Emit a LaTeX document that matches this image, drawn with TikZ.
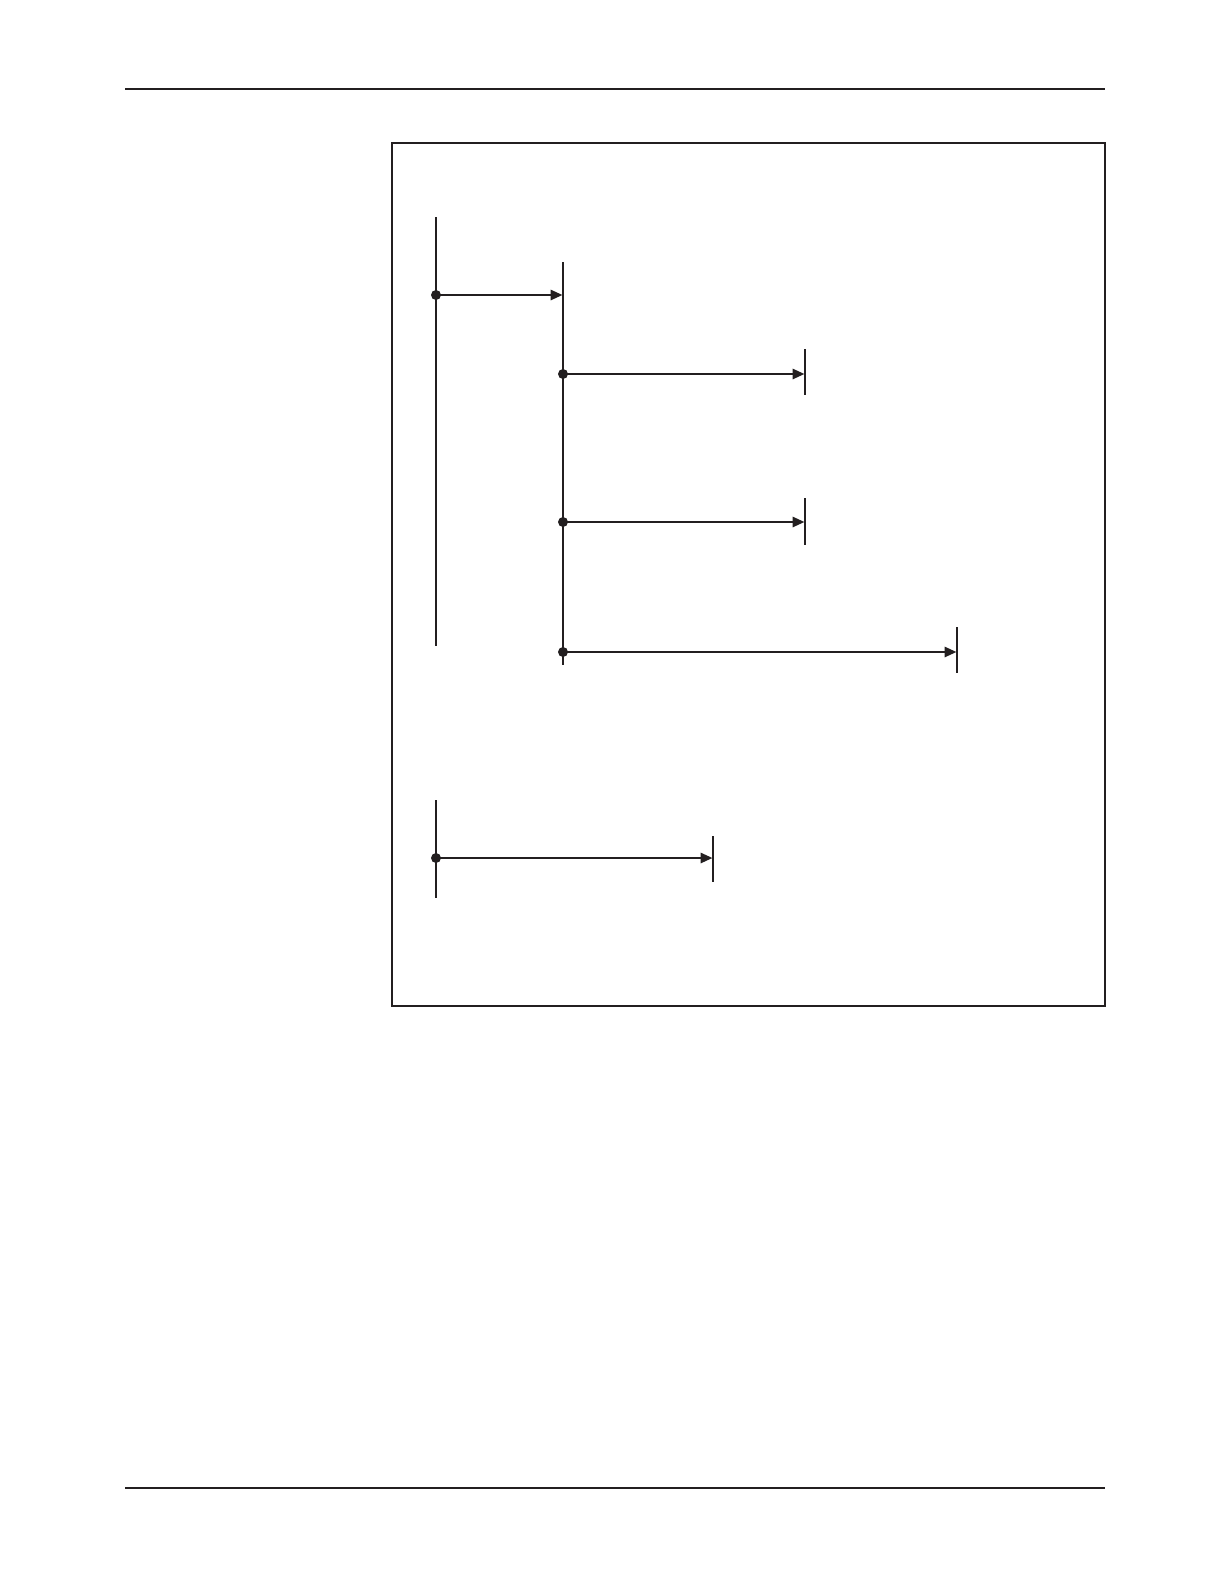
\documentclass[tikz,border=0pt]{standalone}
\usetikzlibrary{arrows.meta}
\definecolor{ink}{HTML}{231F20}
\tikzset{
  lifeline/.style={draw=ink, line width=0.6pt},
  msg/.style={draw=ink, line width=1.35pt, -{Triangle[length=6pt,width=5pt]}, shorten >=0.2pt},
  origin/.style={circle, fill=ink, inner sep=0pt, minimum size=5pt},
  rule/.style={draw=ink, line width=0.65pt},
  frame/.style={draw=ink, line width=0.65pt}
}
\begin{document}
\begin{tikzpicture}[x=0.5pt, y=-0.5pt]
\useasboundingbox (0,0) rectangle (1224,1584);
% page rules
\coordinate (t1) at (125,89); \coordinate (t2) at (1105,89);
\coordinate (b1) at (125,1488); \coordinate (b2) at (1105,1488);
\draw[rule] (t1) -- (t2);
\draw[rule] (b1) -- (b2);
% frame
\coordinate (f1) at (392,143); \coordinate (f2) at (1105,1006);
\draw[frame] (f1) rectangle (f2);
% lifelines
\coordinate (A1) at (436,217); \coordinate (A2) at (436,646);
\coordinate (B1) at (563,262); \coordinate (B2) at (563,665);
\coordinate (C1) at (805,349); \coordinate (C2) at (805,395);
\coordinate (D1) at (805,498); \coordinate (D2) at (805,545);
\coordinate (E1) at (957,627); \coordinate (E2) at (957,673);
\coordinate (F1) at (436,800); \coordinate (F2) at (436,898);
\coordinate (G1) at (713,836); \coordinate (G2) at (713,882);
\draw[lifeline] (A1) -- (A2);
\draw[lifeline] (B1) -- (B2);
\draw[lifeline] (C1) -- (C2);
\draw[lifeline] (D1) -- (D2);
\draw[lifeline] (E1) -- (E2);
\draw[lifeline] (F1) -- (F2);
\draw[lifeline] (G1) -- (G2);
% message origins
\node[origin] (m1) at (436,295) {};
\node[origin] (m2) at (563,374) {};
\node[origin] (m3) at (563,522) {};
\node[origin] (m4) at (563,652) {};
\node[origin] (m5) at (436,858) {};
% message targets
\coordinate (e1) at (563,295);
\coordinate (e2) at (805,374);
\coordinate (e3) at (805,522);
\coordinate (e4) at (957,652);
\coordinate (e5) at (713,858);
\draw[msg] (m1.center) -- (e1);
\draw[msg] (m2.center) -- (e2);
\draw[msg] (m3.center) -- (e3);
\draw[msg] (m4.center) -- (e4);
\draw[msg] (m5.center) -- (e5);
\end{tikzpicture}
\end{document}
